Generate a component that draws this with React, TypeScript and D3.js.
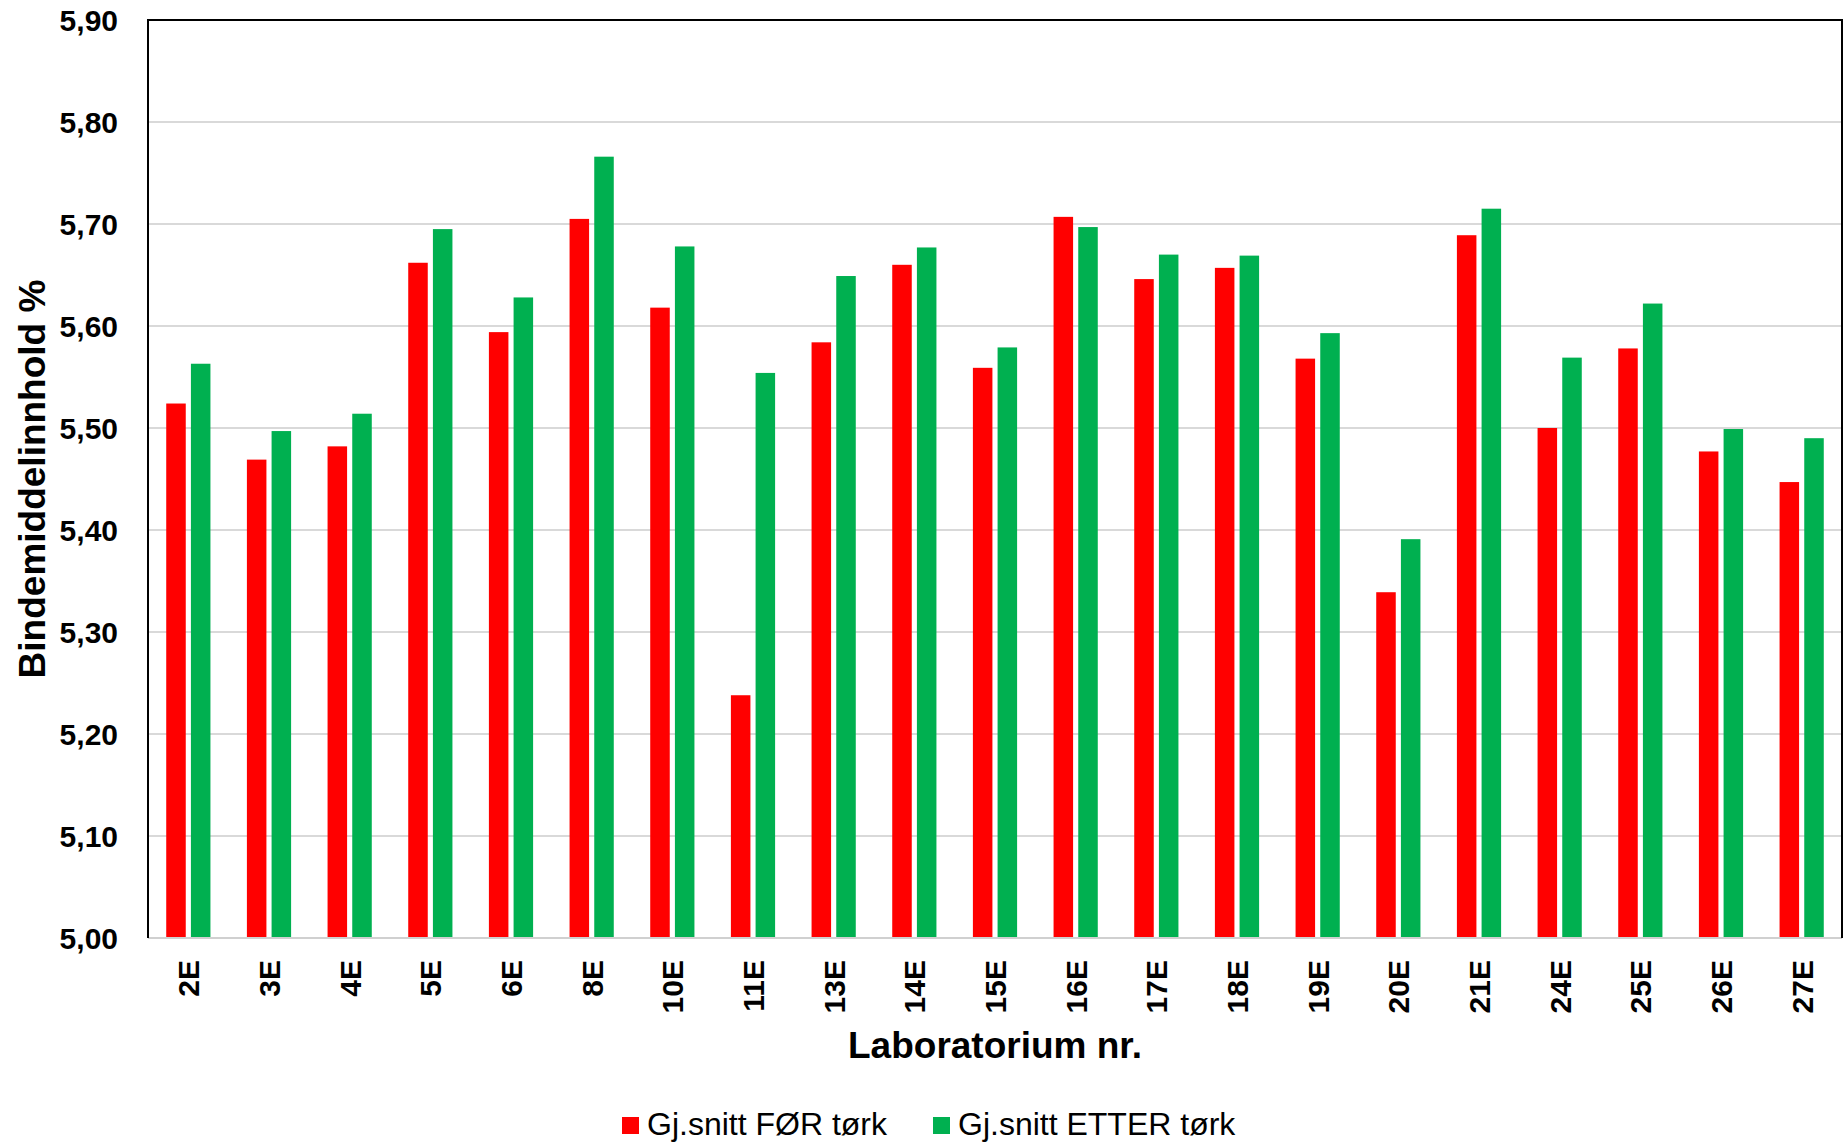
import React from "react";
import * as d3 from "d3";

const categories = ["2E","3E","4E","5E","6E","8E","10E","11E","13E","14E","15E","16E","17E","18E","19E","20E","21E","24E","25E","26E","27E"];
const forTork = [5.524,5.469,5.482,5.662,5.594,5.705,5.618,5.238,5.584,5.660,5.559,5.707,5.646,5.657,5.568,5.339,5.689,5.500,5.578,5.477,5.447];
const etterTork = [5.563,5.497,5.514,5.695,5.628,5.766,5.678,5.554,5.649,5.677,5.579,5.697,5.670,5.669,5.593,5.391,5.715,5.569,5.622,5.499,5.490];
const yTicks = [5.0,5.1,5.2,5.3,5.4,5.5,5.6,5.7,5.8,5.9];
const seriesNames = ["Gj.snitt FØR tørk", "Gj.snitt ETTER tørk"];
const seriesColors = ["#FF0000", "#00B050"];

const W = 1847, H = 1144;
const left = 148, right = 1842, top = 20, bottom = 938;
const font = "'Liberation Sans', Arial, sans-serif";

export default function App() {
  const x = d3.scaleBand<string>().domain(categories).range([left, right]).paddingInner(0).paddingOuter(0);
  const y = d3.scaleLinear().domain([5.0, 5.9]).range([bottom, top]);
  const bw = x.bandwidth();
  const barW = bw * 0.242;
  const off = bw * 0.153;
  const fmt = (v: number) => v.toFixed(2).replace(".", ",");
  const series = [forTork, etterTork];

  return (
    <svg width={W} height={H} style={{ position: "absolute", left: 0, top: 0, background: "#fff" }} fontFamily={font}>
      <rect x={0} y={0} width={W} height={H} fill="#fff" />
      {yTicks.map((t) => (
        <line key={"g" + t} x1={left} x2={right} y1={y(t)} y2={y(t)} stroke="#d9d9d9" strokeWidth={2} />
      ))}
      {series.map((vals, si) =>
        categories.map((c, i) => {
          const cx = (x(c) as number) + bw / 2 + (si === 0 ? -off : off);
          return (
            <rect key={si + c} x={cx - barW / 2} y={y(vals[i])} width={barW} height={bottom - y(vals[i])} fill={seriesColors[si]} />
          );
        })
      )}
      <line x1={left} x2={right} y1={bottom} y2={bottom} stroke="#d0d0d0" strokeWidth={2} />
      <path d={`M${left},${bottom} V${top} H${right} V${bottom}`} fill="none" stroke="#000" strokeWidth={2} />
      {yTicks.map((t) => (
        <text key={"t" + t} x={118} y={y(t)} dy="0.36em" textAnchor="end" fontSize={30} fontWeight="bold" fill="#000">
          {fmt(t)}
        </text>
      ))}
      {categories.map((c) => {
        const cx = (x(c) as number) + bw / 2;
        return (
          <text key={"x" + c} transform={`translate(${cx + 11},960) rotate(-90)`} textAnchor="end" fontSize={30} fontWeight="bold" fill="#000">
            {c}
          </text>
        );
      })}
      <text x={(left + right) / 2} y={1058} textAnchor="middle" fontSize={37} fontWeight="bold" fill="#000">
        Laboratorium nr.
      </text>
      <text transform={`translate(45,${(top + bottom) / 2}) rotate(-90)`} textAnchor="middle" fontSize={37} fontWeight="bold" fill="#000">
        Bindemiddelinnhold %
      </text>
      {seriesNames.map((n, i) => {
        const lx = i === 0 ? 622 : 933;
        return (
          <g key={n}>
            <rect x={lx} y={1117} width={17} height={17} fill={seriesColors[i]} />
            <text x={lx + 25} y={1135} fontSize={32} fill="#000">{n}</text>
          </g>
        );
      })}
    </svg>
  );
}
